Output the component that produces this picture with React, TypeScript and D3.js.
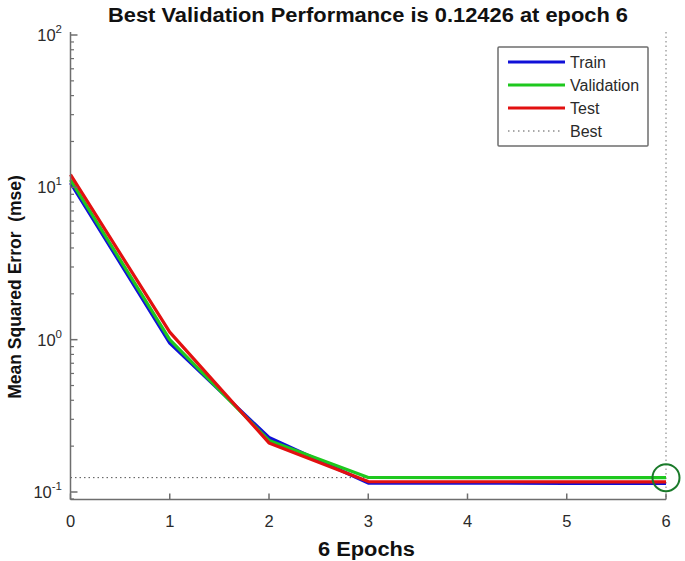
import React from "react";
import * as d3 from "d3";

const epochs = [0, 1, 2, 3, 4, 5, 6];
const trainPerf = [10.7, 0.95, 0.228, 0.1145, 0.1142, 0.114, 0.1139];
const valPerf = [11.2, 1.0, 0.218, 0.1245, 0.12435, 0.1243, 0.12426];
const testPerf = [12.1, 1.12, 0.21, 0.117, 0.1168, 0.1167, 0.1166];
const bestEpoch = 6;
const bestPerf = 0.12426;
const xTicks = [0, 1, 2, 3, 4, 5, 6];
const yDecades = [-1, 0, 1, 2];
const legendItems = ["Train", "Validation", "Test", "Best"];
const seriesColors = ["#1010d8", "#1ec81e", "#e21010"];

const W = 685;
const H = 561;
const X0 = 70.5;
const X1 = 666;
const YB = 499.5;
const YT = 32;

export default function App() {
  const x = d3.scaleLinear().domain([0, 6]).range([X0, X1]);
  const y = d3.scaleLog().domain([0.1, 100]).range([492, 35]);
  const line = d3
    .line<number>()
    .x((_, i) => x(epochs[i]))
    .y((d) => y(d));
  const series = [trainPerf, valPerf, testPerf];
  const axisColor = "#6e6e6e";
  const textColor = "#2a2a2a";
  const font = "'Liberation Sans', Arial, sans-serif";

  const minorTicks: number[] = [];
  for (let dcd = -2; dcd <= 2; dcd++) {
    for (let m = 2; m <= 9; m++) {
      const v = m * Math.pow(10, dcd);
      const py = y(v);
      if (py <= YB && py >= YT) minorTicks.push(v);
    }
  }

  return (
    <svg width={W} height={H} style={{ position: "absolute", left: 0, top: 0, background: "#fff" }}>
      <rect width={W} height={H} fill="#fff" />
      <text x={108} y={22} textLength={520} lengthAdjust="spacingAndGlyphs" fontFamily={font} fontWeight="bold" fontSize={20} fill="#111">
        Best Validation Performance is 0.12426 at epoch 6
      </text>
      {/* best lines */}
      <line x1={X0} x2={x(bestEpoch)} y1={y(bestPerf)} y2={y(bestPerf)} stroke="#555" strokeWidth={1} strokeDasharray="1.5 3" />
      <line x1={x(bestEpoch)} x2={x(bestEpoch)} y1={YT} y2={YB} stroke="#777" strokeWidth={1} strokeDasharray="1.5 3" />
      {/* series */}
      {series.map((s, i) => (
        <path key={i} d={line(s) || ""} fill="none" stroke={seriesColors[i]} strokeWidth={3.2} strokeLinejoin="round" />
      ))}
      {/* axes */}
      <line x1={X0} x2={X0} y1={YT} y2={YB} stroke={axisColor} strokeWidth={1.5} />
      <line x1={X0} x2={X1} y1={YB} y2={YB} stroke={axisColor} strokeWidth={1.5} />
      {xTicks.map((t) => (
        <g key={t}>
          <line x1={x(t)} x2={x(t)} y1={YB} y2={YB - 6} stroke={axisColor} strokeWidth={1.5} />
          <text x={x(t)} y={527} textAnchor="middle" fontFamily={font} fontSize={16.5} fill={textColor}>
            {t}
          </text>
        </g>
      ))}
      {yDecades.map((d) => (
        <g key={d}>
          <line x1={X0} x2={X0 + 7} y1={y(Math.pow(10, d))} y2={y(Math.pow(10, d))} stroke={axisColor} strokeWidth={1.5} />
          <text x={62} y={y(Math.pow(10, d)) + 6} textAnchor="end" fontFamily={font} fontSize={16.5} fill={textColor}>
            10
            <tspan fontSize={11.5} dy={-8}>
              {d}
            </tspan>
          </text>
        </g>
      ))}
      {minorTicks.map((v, i) => (
        <line key={i} x1={X0} x2={X0 + 3.5} y1={y(v)} y2={y(v)} stroke={axisColor} strokeWidth={1.2} />
      ))}
      {/* best circle */}
      <circle cx={x(bestEpoch)} cy={y(bestPerf)} r={13.5} fill="none" stroke="#1a7a2a" strokeWidth={2} />
      {/* axis labels */}
      <text x={318} y={556} textLength={97} lengthAdjust="spacingAndGlyphs" fontFamily={font} fontWeight="bold" fontSize={19.5} fill="#111">
        6 Epochs
      </text>
      <text
        transform="translate(21,287) rotate(-90)"
        textAnchor="middle"
        fontFamily={font}
        fontWeight="bold"
        fontSize={17.5}
        fill="#111"
        style={{ whiteSpace: "pre" }}
      >
        {"Mean Squared Error  (mse)"}
      </text>
      {/* legend */}
      <rect x={498} y={47} width={150} height={99} fill="#fff" stroke="#6e6e6e" strokeWidth={1.5} rx={1} />
      {legendItems.map((name, i) => {
        const ly = 62 + i * 23;
        return (
          <g key={name}>
            {i < 3 ? (
              <line x1={508} x2={565} y1={ly} y2={ly} stroke={seriesColors[i]} strokeWidth={3.2} />
            ) : (
              <line x1={508} x2={560} y1={ly} y2={ly} stroke="#555" strokeWidth={1} strokeDasharray="1.5 3.5" />
            )}
            <text x={570} y={ly + 6} fontFamily={font} fontSize={16} fill={textColor}>
              {name}
            </text>
          </g>
        );
      })}
    </svg>
  );
}
